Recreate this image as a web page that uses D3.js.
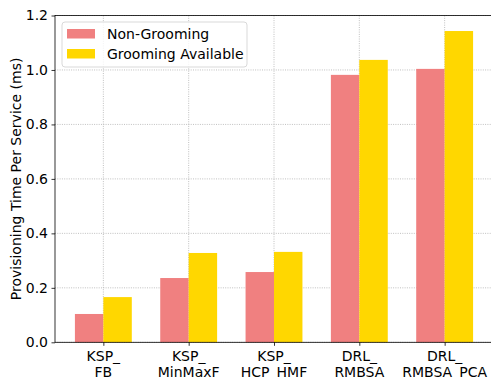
<!DOCTYPE html>
<html><head><meta charset="utf-8">
<script src="https://cdn.jsdelivr.net/npm/d3@7"></script>
<style>body{margin:0;background:#fff}svg{display:block;font-family:"DejaVu Sans",sans-serif}</style>
</head><body>
<svg id="c" width="491" height="377"></svg>
<script>
const categories = [["KSP_","FB"],["KSP_","MinMaxF"],["KSP_","HCP_HMF"],["DRL_","RMBSA"],["DRL_","RMBSA_PCA"]];
const nonGrooming = [0.104, 0.236, 0.258, 0.982, 1.004];
const groomingAvailable = [0.166, 0.328, 0.332, 1.037, 1.143];
const seriesNames = ["Non-Grooming","Grooming Available"];
const colors = ["#F08080","#FFD700"];
const yTicks = [0.0,0.2,0.4,0.6,0.8,1.0,1.2];

const svg = d3.select("#c");
const L=55, R=493, T=15.5, B=342.3;
const barW = 1/3;
const x = d3.scaleLinear().domain([-0.5667, 4.5667]).range([L,R]);
const y = d3.scaleLinear().domain([0,1.2]).range([B,T]);

// grid
const g = svg.append("g");
g.selectAll(".gy").data(yTicks).join("line")
 .attr("x1",L).attr("x2",R).attr("y1",d=>y(d)).attr("y2",d=>y(d))
 .attr("stroke","#b0b0b0").attr("stroke-width",0.8).attr("stroke-dasharray","1,1.3");
g.selectAll(".gx").data(categories.map((c,i)=>i)).join("line")
 .attr("x1",d=>x(d)).attr("x2",d=>x(d)).attr("y1",T).attr("y2",B)
 .attr("stroke","#b0b0b0").attr("stroke-width",0.8).attr("stroke-dasharray","1,1.3");

// bars
[nonGrooming, groomingAvailable].forEach((vals,s)=>{
  svg.append("g").selectAll("rect").data(vals).join("rect")
    .attr("x",(d,i)=>x(i + (s===0 ? -barW : 0)))
    .attr("width",(d,i)=>x(i+barW)-x(i))
    .attr("y",d=>y(d)).attr("height",d=>B-y(d))
    .attr("fill",colors[s]);
});

// y axis
const ya = svg.append("g").attr("transform",`translate(${L},0)`)
  .call(d3.axisLeft(y).tickValues(yTicks).tickFormat(d3.format(".1f")).tickSize(3.5).tickPadding(3.5));
ya.select(".domain").remove();
ya.selectAll("text").attr("font-size",14).attr("fill","#000").attr("font-family","DejaVu Sans");
ya.selectAll("line").attr("stroke","#000").attr("stroke-width",0.8);

// x axis
const xa = svg.append("g").attr("transform",`translate(0,${B})`)
  .call(d3.axisBottom(x).tickValues(d3.range(categories.length)).tickFormat("").tickSize(3.5));
xa.select(".domain").remove();
xa.selectAll("line").attr("stroke","#000").attr("stroke-width",0.8);
categories.forEach((c,i)=>{
  const t = svg.append("text").attr("x",x(i)).attr("text-anchor","middle")
    .attr("font-size",14).attr("fill","#000");
  t.append("tspan").attr("x",x(i)).attr("y",361).text(c[0]);
  t.append("tspan").attr("x",x(i)).attr("y",377).text(c[1]);
});

// spines
svg.append("rect").attr("x",L).attr("y",T).attr("width",R-L).attr("height",B-T)
  .attr("fill","none").attr("stroke","#000").attr("stroke-width",0.8);

// y label
svg.append("text").attr("transform",`translate(21,${(T+B)/2}) rotate(-90)`)
  .attr("text-anchor","middle").attr("font-size",14).attr("fill","#000")
  .text("Provisioning Time Per Service (ms)");

// legend
const lg = svg.append("g");
lg.append("rect").attr("x",62).attr("y",22).attr("width",185).attr("height",45).attr("rx",3)
  .attr("fill","#fff").attr("fill-opacity",0.8).attr("stroke","#d9d9d9").attr("stroke-width",1);
seriesNames.forEach((n,i)=>{
  lg.append("rect").attr("x",67).attr("y",29+i*20).attr("width",28).attr("height",9.5).attr("fill",colors[i]);
  lg.append("text").attr("x",107).attr("y",38.5+i*20).attr("font-size",14).attr("fill","#000").text(n);
});
</script>
</body></html>
